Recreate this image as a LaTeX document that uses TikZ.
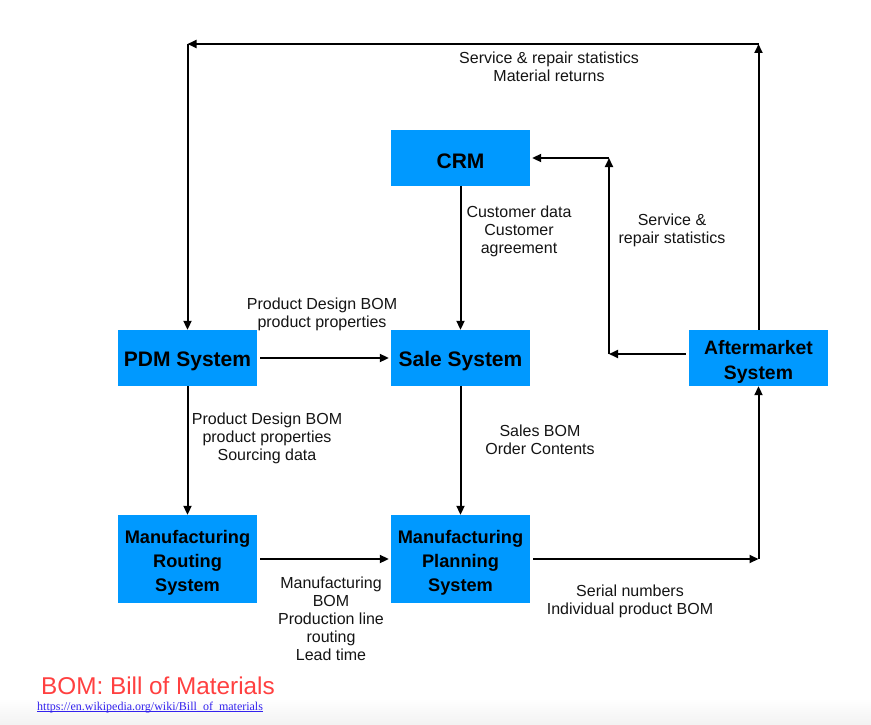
\documentclass[tikz,border=0pt]{standalone}
\usepackage{fontspec}
\setmainfont{Liberation Sans}
\newfontfamily\urlfont{Liberation Serif}
\usetikzlibrary{arrows.meta,calc}
\definecolor{boxblue}{RGB}{0,153,255}
\definecolor{bomred}{RGB}{255,64,64}
\definecolor{linkblue}{RGB}{51,34,238}
\definecolor{txt}{RGB}{20,20,20}
\begin{document}
\begin{tikzpicture}[x=1pt,y=-1pt,
  sysbox/.style={fill=boxblue,draw=none,minimum width=139pt,minimum height=56pt,inner sep=0pt},
  tallbox/.style={sysbox,minimum height=88pt},
  bt/.style={label={[align=center,inner sep=0pt,yshift=-3.5pt,text=black,font=\fontsize{21}{25}\selectfont\bfseries]center:#1}},
  bmid/.style={label={[align=center,inner sep=0pt,yshift=-3.5pt,text=black,font=\fontsize{19.4}{25}\selectfont\bfseries]center:#1}},
  btall/.style={label={[align=center,inner sep=0pt,yshift=-3.5pt,text=black,font=\fontsize{18.2}{24}\selectfont\bfseries]center:#1}},
  lbl/.style={align=center,font=\fontsize{16}{18}\selectfont,text=txt,inner sep=0pt},
  arr/.style={line width=2pt,-{Triangle[length=9pt,width=8pt]}}]
\useasboundingbox (0,0) rectangle (871,725);
\shade[top color=white,bottom color=black!5,draw=none] (0,698) rectangle (871,725);

\node[sysbox,bt={CRM}] (crm) at (460.5,158) {};
\node[sysbox,bt={PDM System}] (pdm) at (187.5,358) {};
\node[sysbox,bt={Sale System}] (sale) at (460.5,358) {};
\node[sysbox,bmid={Aftermarket\\System}] (after) at (758.5,358) {};
\node[tallbox,btall={Manufacturing\\Routing\\System}] (mr) at (187.5,559) {};
\node[tallbox,btall={Manufacturing\\Planning\\System}] (mp) at (460.5,559) {};

\coordinate (tl) at (187.5,44);
\coordinate (tr) at (758.5,44);
\coordinate (c1) at (609,354);
\coordinate (c2) at (609,158);
\coordinate (c3) at (758.5,559);

\draw[arr] (after.north) -- (tr);
\draw[arr] (tr) -- (tl);
\draw[arr] (tl) -- (pdm.north);
\draw[arr] (crm) -- (sale);
\draw[arr,shorten <=3pt] (after.west |- c1) -- (c1);
\draw[arr] (c1) -- (c2);
\draw[arr,shorten >=2pt] (c2) -- (crm.east |- c2);
\draw[arr,shorten <=3pt,shorten >=2pt] (pdm) -- (sale);
\draw[arr] (pdm) -- (mr);
\draw[arr] (sale) -- (mp);
\draw[arr,shorten <=3pt,shorten >=2pt] (mr) -- (mp);
\draw[arr,shorten <=3pt] (mp.east) -- (c3);
\draw[arr] (c3) -- (after.south);

\node[lbl] (l1) at (549,67) {Service \& repair statistics\\Material returns};
\node[lbl] (l2) at (519,231.5) {Customer data\\Customer\\agreement};
\node[lbl] (l3) at (672,230) {Service \&\\repair statistics};
\node[lbl] (l4) at (322,314) {Product Design BOM\\product properties};
\node[lbl] (l5) at (267,438) {Product Design BOM\\product properties\\Sourcing data};
\node[lbl] (l6) at (540,440) {Sales BOM\\Order Contents};
\node[lbl] (l7) at (331,619) {Manufacturing\\BOM\\Production line\\routing\\Lead time};
\node[lbl] (l8) at (630,601) {Serial numbers\\Individual product BOM};

\node[anchor=west,inner sep=0pt,text=bomred,font=\fontsize{24.3}{28}\selectfont] (bom) at (41,686) {BOM: Bill of Materials};
\node[anchor=base west,inner sep=0pt,text=linkblue,font=\urlfont\fontsize{12}{14}\selectfont] (url) at (37,710) {https://en.wikipedia.org/wiki/Bill\_of\_materials};
\draw[linkblue,line width=0.6pt] ($(url.base west)+(0,1.5)$) -- ($(url.base east)+(0,1.5)$);
\end{tikzpicture}
\end{document}
